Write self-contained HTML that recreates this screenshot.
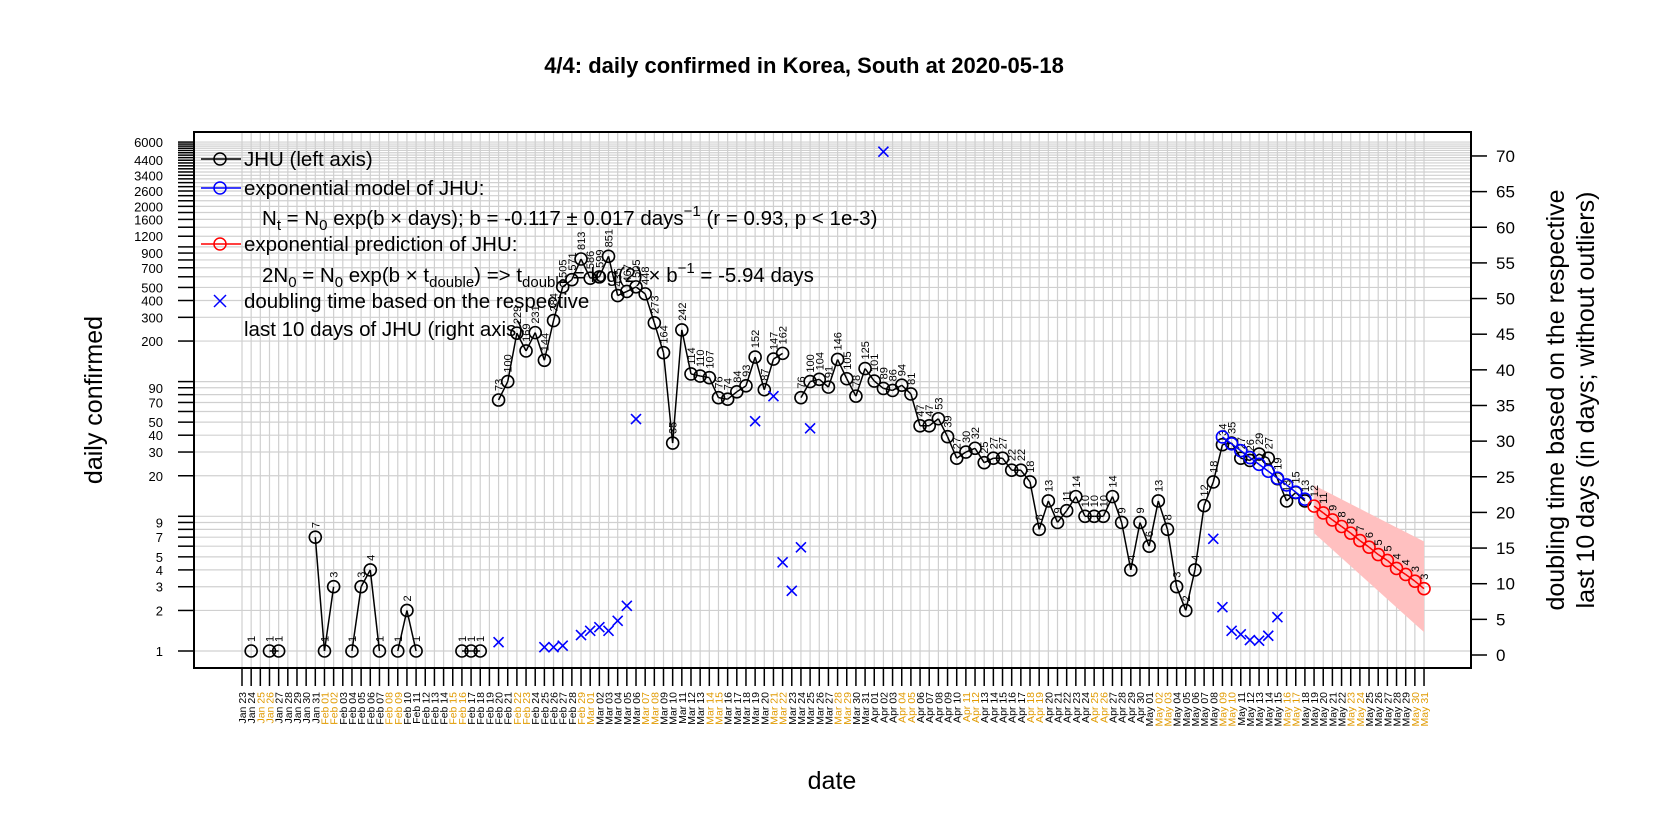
<!DOCTYPE html>
<html><head><meta charset="utf-8"><style>
html,body{margin:0;padding:0;background:#fff;}
svg{display:block;font-family:"Liberation Sans",sans-serif;}
</style></head><body>
<svg id="chart" width="1666" height="833" viewBox="0 0 1666 833" xmlns="http://www.w3.org/2000/svg">
<rect width="1666" height="833" fill="#fff"/>
<text x="804" y="73" text-anchor="middle" font-weight="bold" font-size="22">4/4: daily confirmed in Korea, South at 2020-05-18</text>
<g id="grid"></g>
<g id="band"></g>
<g id="series"></g>
<rect x="194" y="132" width="1277" height="536" fill="none" stroke="#000" stroke-width="2"/>
<g id="axes"></g>
<text transform="translate(102,400) rotate(-90)" text-anchor="middle" font-size="25">daily confirmed</text>
<text x="832" y="789" text-anchor="middle" font-size="25">date</text>
<text transform="translate(1564,400) rotate(-90)" text-anchor="middle" font-size="25">doubling time based on the respective</text>
<text transform="translate(1594,400) rotate(-90)" text-anchor="middle" font-size="25">last 10 days (in days; without outliers)</text>
<g id="legend" font-size="20.5">
  <g>
    <line x1="201" y1="159" x2="241" y2="159" stroke="#000" stroke-width="1.5"/>
    <circle cx="220" cy="159" r="6" fill="none" stroke="#000" stroke-width="1.5"/>
    <text x="244" y="166">JHU (left axis)</text>
  </g>
  <g>
    <line x1="201" y1="188" x2="241" y2="188" stroke="#00f" stroke-width="1.5"/>
    <circle cx="220" cy="188" r="6" fill="none" stroke="#00f" stroke-width="1.5"/>
    <text x="244" y="195">exponential model of JHU:</text>
    <text x="262" y="225">N<tspan font-size="15" dy="5">t</tspan><tspan dy="-5"> = N</tspan><tspan font-size="15" dy="5">0</tspan><tspan dy="-5"> exp(b × days); b = -0.117 ± 0.017 days</tspan><tspan font-size="15" dy="-9">−1</tspan><tspan dy="9"> (r = 0.93, p &lt; 1e-3)</tspan></text>
  </g>
  <g>
    <line x1="201" y1="244" x2="241" y2="244" stroke="#f00" stroke-width="1.5"/>
    <circle cx="220" cy="244" r="6" fill="none" stroke="#f00" stroke-width="1.5"/>
    <text x="244" y="251">exponential prediction of JHU:</text>
    <text x="262" y="282">2N<tspan font-size="15" dy="5">0</tspan><tspan dy="-5"> = N</tspan><tspan font-size="15" dy="5">0</tspan><tspan dy="-5"> exp(b × t</tspan><tspan font-size="15" dy="5">double</tspan><tspan dy="-5">) =&gt; t</tspan><tspan font-size="15" dy="5">double</tspan><tspan dy="-5"> = log(2) × b</tspan><tspan font-size="15" dy="-9">−1</tspan><tspan dy="9"> = -5.94 days</tspan></text>
  </g>
  <g>
    <path d="M214,295 L226,307 M226,295 L214,307" stroke="#00f" stroke-width="1.5"/>
    <text x="244" y="308">doubling time based on the respective</text>
    <text x="244" y="336">last 10 days of JHU (right axis)</text>
  </g>
</g>
</svg>
<script>
// ---- data ----
const jhuDays = [1,3,4,8,9,10,12,13,14,15,17,18,19,24,25,26,
 28,29,30,31,32,33,34,35,36,37,38,39,40,41,42,43,44,45,46,47,48,49,50,51,52,53,54,55,56,57,58,59,
 61,62,63,64,65,66,67,68,69,70,71,72,73,74,75,76,77,78,79,80,81,82,83,84,85,86,
 87,88,89,90,91,92,93,94,95,96,97,98,99,100,101,102,103,104,105,106,
 107,108,109,110,111,112,113,114,115,116];
const jhuVals = [1,1,1,7,1,3,1,3,4,1,1,2,1,1,1,1,
 73,100,229,169,231,144,284,505,571,813,586,599,851,435,467,505,448,273,164,35,242,114,110,107,76,74,84,93,152,87,147,162,
 76,100,104,91,146,105,78,125,101,89,86,94,81,47,47,53,39,27,30,32,25,27,27,22,22,18,
 8,13,9,11,14,10,10,10,14,9,4,9,6,13,8,3,2,4,12,18,
 34,35,27,26,29,27,19,13,15,13];
const modelDays = [107,108,109,110,111,112,113,114,115,116];
const modelVals = [38.8,34.5,30.7,27.3,24.3,21.6,19.2,17.1,15.1,13.4];
const predDays = [117,118,119,120,121,122,123,124,125,126,127,128,129];
const predVals = [11.9,10.6,9.4,8.4,7.5,6.6,5.9,5.2,4.7,4.1,3.7,3.3,2.9];
const bandDays = [117,129];
const bandUpper = [17,6.5];
const bandLower = [7.5,1.38];
const dblDays = [28,33,34,35,37,38,39,40,41,42,43,56,58,59,60,61,62,70,106,107,108,109,110,111,112,113];
const dblVals = [1.8,1.1,1.1,1.3,2.8,3.4,3.9,3.4,4.8,6.9,33.1,32.8,36.3,13.0,9.0,15.1,31.8,70.6,16.3,6.7,3.4,2.9,2.1,2.0,2.7,5.3];
const leftTicks = [1,2,3,4,5,6,7,8,9,10,20,30,40,50,60,70,80,90,100,200,300,400,500,600,700,800,900,1000,1200,1400,1600,1800,2000,2200,2400,2600,2800,3000,3200,3400,3600,3800,4000,4200,4400,4600,4800,5000,5200,5400,5600,5800,6000];
const leftLabels = [1,2,3,4,5,7,9,20,30,40,50,70,90,200,300,400,500,700,900,1200,1600,2000,2600,3400,4400,6000];
const rightTicks = [0,5,10,15,20,25,30,35,40,45,50,55,60,65,70];
const nDays = 130;

// ---- scales ----
const NS = "http://www.w3.org/2000/svg";
const X0 = 242, DX = 9.163;
function xOf(d){ return X0 + DX*d; }
function yL(v){ return 651 - 134.7*Math.log10(v); }
function yR(v){ return 655 - 7.129*v; }
function mk(tag, attrs, parent){
  const e = document.createElementNS(NS, tag);
  for (const k in attrs) e.setAttribute(k, attrs[k]);
  parent.appendChild(e); return e;
}
const grid = document.getElementById('grid');
const axes = document.getElementById('axes');
const series = document.getElementById('series');
const bandG = document.getElementById('band');

for (let d=0; d<nDays; d++){
  const l = mk('line',{x1:xOf(d),x2:xOf(d),y1:132,y2:668,stroke:'#d0d0d0','stroke-width':1.2},grid);
  
  
}
leftTicks.forEach(v=>{
  const l = mk('line',{x1:194,x2:1471,y1:yL(v),y2:yL(v),stroke:'#d0d0d0','stroke-width':1.2},grid);
  
  
});

leftTicks.forEach(v=>{
  const t = mk('line',{x1:178,x2:194,y1:yL(v),y2:yL(v),stroke:'#000','stroke-width':1.5},axes);
  
  
});
leftLabels.forEach(v=>{
  const t = mk('text',{x:163,y:yL(v)+5,'text-anchor':'end','font-size':13},axes);
  t.textContent = v;
  
  
});
rightTicks.forEach(v=>{
  const t = mk('line',{x1:1471,x2:1487,y1:yR(v),y2:yR(v),stroke:'#000','stroke-width':1.5},axes);
  
  
  const lb = mk('text',{x:1496,y:yR(v)+6,'font-size':17},axes);
  lb.textContent = v;
  
  
});
const months = ['Jan','Feb','Mar','Apr','May','Jun'];
const start = new Date(Date.UTC(2020,0,23));
for (let d=0; d<nDays; d++){
  const dt = new Date(start.getTime()+d*86400000);
  const wk = dt.getUTCDay();
  const t = mk('line',{x1:xOf(d),x2:xOf(d),y1:668,y2:686,stroke:'#000','stroke-width':1.5},axes);
  
  
  const dd = String(dt.getUTCDate()).padStart(2,'0');
  const lb = mk('text',{transform:`translate(${xOf(d)+4},692) rotate(-90)`,'text-anchor':'end','font-size':10.5,fill:(wk===0||wk===6)?'#E09A00':'#000'},axes);
  lb.textContent = months[dt.getUTCMonth()]+' '+dd;
  
  
}

const bp = `M${xOf(bandDays[0])},${yL(bandUpper[0])} L${xOf(bandDays[1])},${yL(bandUpper[1])} L${xOf(bandDays[1])},${yL(bandLower[1])} L${xOf(bandDays[0])},${yL(bandLower[0])} Z`;
const band = mk('path',{d:bp,fill:'#ffc0c0',stroke:'none'},bandG);



function drawSeries(days, vals, color, name, labels){
  for (let i=1;i<days.length;i++){
    if (days[i]-days[i-1]===1){
      const l = mk('line',{x1:xOf(days[i-1]),y1:yL(vals[i-1]),x2:xOf(days[i]),y2:yL(vals[i]),stroke:color,'stroke-width':1.5},series);
      
      
    }
  }
  for (let i=0;i<days.length;i++){
    const c = mk('circle',{cx:xOf(days[i]),cy:yL(vals[i]),r:6,fill:'none',stroke:color,'stroke-width':1.6},series);
    
    
    if (labels){
      const x = xOf(days[i])+4, y = yL(vals[i])-9;
      const t = mk('text',{transform:`translate(${x},${y}) rotate(-90)`,'font-size':11},series);
      t.textContent = Math.round(vals[i]);
      
      
    }
  }
}
drawSeries(jhuDays, jhuVals, '#000', 'jhu', true);
drawSeries(modelDays, modelVals, '#00f', 'model', false);
drawSeries(predDays, predVals, '#f00', 'prediction', true);

for (let i=0;i<dblDays.length;i++){
  const x = xOf(dblDays[i]), y = yR(dblVals[i]);
  const p = mk('path',{d:`M${x-5},${y-5} L${x+5},${y+5} M${x+5},${y-5} L${x-5},${y+5}`,stroke:'#00f','stroke-width':1.6},series);
  
  
}
</script>
</body></html>
